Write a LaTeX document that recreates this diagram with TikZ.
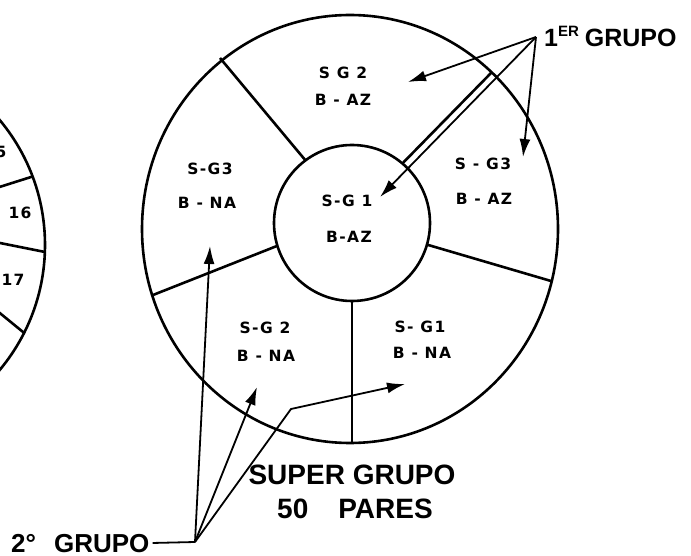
\documentclass[tikz,border=0pt]{standalone}
\usepackage{fontspec}
\setmainfont{Liberation Sans}
\newfontfamily\lettering[LetterSpace=9]{DejaVu Sans Bold}
\usepackage{tikz}
\usetikzlibrary{arrows.meta}

\begin{document}
\begin{tikzpicture}[x=1pt,y=-1pt,
  seg/.style={line width=2.6pt},
  ptr/.style={line width=1.8pt,-{Latex[length=18pt,width=11pt]}},
  lbl/.style={font=\lettering\fontsize{15.5}{15.5}\selectfont,inner sep=0pt},
  big/.style={font=\bfseries\fontsize{28}{28}\selectfont,inner sep=0pt,anchor=base}]
  % Cable cross-section: super group of 50 pairs, binder colours
  \def\cx{350}   % centre of the super group
  \def\cy{229}
  \def\ix{352}   % centre of the inner binder
  \def\iy{223}
  \useasboundingbox (0,0) rectangle (691,556);
  \clip (0,0) rectangle (691,556);
  % --- Neighbouring cable, cut by the left edge ---
  \draw[seg] (-150,245) circle [radius=195pt];
  \begin{scope}
    \clip (-150,245) circle [radius=195pt];
    \draw[seg] (-10,190) -- (50,171);
    \draw[seg] (-10,241) -- (60,255);
    \draw[seg] (-10,305) -- (45,350);
  \end{scope}
  \node[lbl] (n15) at (-5,152) {15};
  \node[lbl] (n16) at (20,213) {16};
  \node[lbl] (n17) at (13,280) {17};
  % --- Outer ring and spokes ---
  \draw[seg] (\cx,\cy) ellipse [x radius=208pt, y radius=214pt];
  \draw[seg] (220,58) -- (311,167);
  \draw[seg] (492,72) -- (396,170);
  \draw[seg] (551,281) -- (418,242);
  \draw[seg] (352,443) -- (352,290);
  \draw[seg] (153,295) -- (287,242);
  % --- Inner binder ---
  \filldraw[seg,fill=white] (\ix,\iy) circle [radius=78pt];
  % --- Binder labels ---
  \node[lbl] (sgtop) at (343,73) {S G 2};
  \node[lbl] (bztop) at (343,100) {B - AZ};
  \node[lbl] (sgrgt) at (483,164) {S - G3};
  \node[lbl] (bzrgt) at (484,199) {B - AZ};
  \node[lbl] (sgmid) at (347,201) {S-G 1};
  \node[lbl] (bzmid) at (349,237) {B-AZ};
  \node[lbl] (sglft) at (210,169) {S-G3};
  \node[lbl] (bnlft) at (207,203) {B - NA};
  \node[lbl] (sgllo) at (265,328) {S-G 2};
  \node[lbl] (bnllo) at (266,356) {B - NA};
  \node[lbl] (sgrlo) at (420,327) {S- G1};
  \node[lbl] (bnrlo) at (422,353) {B - NA};
  % --- First group pointers ---
  \node[anchor=base west,inner sep=0pt,font=\bfseries\fontsize{25}{25}\selectfont]
    (grp1) at (544,47)
    {1\raisebox{10pt}{\fontsize{15}{15}\selectfont ER}\hspace{6pt}GRUPO};
  \coordinate (apex1) at (536,37);
  \coordinate (tip1a) at (408,82);
  \coordinate (tip1b) at (380,197);
  \coordinate (tip1c) at (523,157);
  \draw[ptr] (apex1) -- (tip1a);
  \draw[ptr] (apex1) -- (tip1b);
  \draw[ptr] (apex1) -- (tip1c);
  % --- Second group pointers ---
  \node[anchor=base west,inner sep=0pt,font=\bfseries\fontsize{26}{26}\selectfont]
    (grp2) at (11,552) {2°\hspace{18pt}GRUPO};
  \coordinate (apex2) at (195,542);
  \coordinate (tip2a) at (210,246);
  \coordinate (tip2b) at (257,387);
  \coordinate (bend2) at (291,409);
  \coordinate (tip2c) at (405,384);
  \draw[line width=1.8pt,shorten <=3pt] (grp2.east) -- (apex2);
  \draw[ptr] (apex2) -- (tip2a);
  \draw[ptr] (apex2) -- (tip2b);
  \draw[ptr] (apex2) -- (bend2) -- (tip2c);
  % --- Title ---
  \node[big] (title) at (352,484) {SUPER GRUPO};
  \node[big] (pairs) at (355,518) {50\hspace{30pt}PARES};
\end{tikzpicture}
\end{document}
